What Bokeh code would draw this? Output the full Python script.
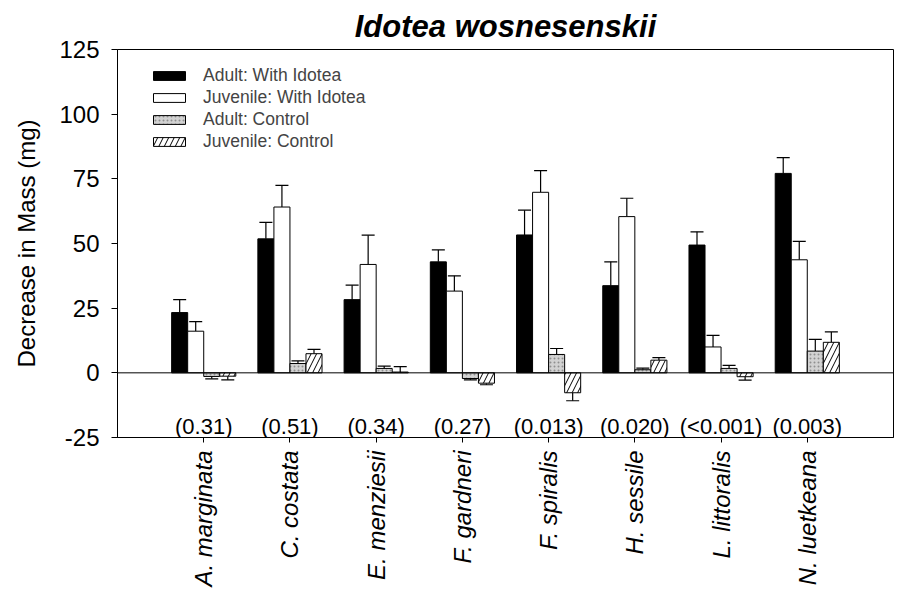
import math
from bokeh.plotting import figure
from bokeh.models import (ColumnDataSource, FactorRange, Range1d, Whisker, TeeHead,
                          Span, Legend, LegendItem, FixedTicker)
from bokeh.transform import dodge
from bokeh.core.properties import value
from bokeh.embed import file_html
from bokeh.resources import INLINE

chart_title = "Idotea wosnesenskii"
categories = ["A. marginata", "C. costata", "E. menziesii", "F. gardneri",
              "F. spiralis", "H. sessile", "L. littoralis", "N. luetkeana"]
p_values = ["(0.31)", "(0.51)", "(0.34)", "(0.27)", "(0.013)", "(0.020)", "(<0.001)", "(0.003)"]

adult_with = [23.3, 51.8, 28.3, 42.9, 53.3, 33.7, 49.4, 77.1]
adult_with_err = [5.0, 6.4, 5.6, 4.6, 9.6, 9.2, 5.1, 6.1]
juvenile_with = [16.1, 64.1, 41.9, 31.6, 69.8, 60.4, 10.0, 43.7]
juvenile_with_err = [3.7, 8.4, 11.3, 5.9, 8.4, 7.1, 4.5, 7.1]
adult_control = [-1.4, 3.6, 1.7, -2.2, 7.1, 1.2, 1.7, 8.4]
adult_control_err = [0.9, 1.0, 0.9, 0.5, 2.3, 0.6, 1.2, 4.5]
juvenile_control = [-1.3, 7.4, 0.3, -4.0, -7.7, 4.9, -1.5, 11.8]
juvenile_control_err = [1.4, 1.7, 2.1, 0.6, 3.1, 1.0, 1.3, 4.0]

series_names = ["Adult: With Idotea", "Juvenile: With Idotea", "Adult: Control", "Juvenile: Control"]
y_ticks = [-25, 0, 25, 50, 75, 100, 125]
y_tick_labels = ["-25", "0", "25", "50", "75", "100", "125"]

FONT = "Liberation Sans"

def err_end(vals, errs):
    return [v + (e if v >= 0 else -e) for v, e in zip(vals, errs)]

src = ColumnDataSource(dict(
    cat=categories, pval=p_values,
    aw=adult_with, aw_e=err_end(adult_with, adult_with_err),
    jw=juvenile_with, jw_e=err_end(juvenile_with, juvenile_with_err),
    ac=adult_control, ac_e=err_end(adult_control, adult_control_err),
    jc=juvenile_control, jc_e=err_end(juvenile_control, juvenile_control_err),
))

p = figure(width=898, height=600, output_backend="svg", toolbar_location=None,
           x_range=FactorRange(*categories, range_padding=0.5, range_padding_units="absolute"),
           y_range=Range1d(-25, 125),
           min_border_left=117, min_border_right=5, min_border_top=49, min_border_bottom=163)

p.title.text = chart_title
p.title.text_font = FONT
p.title.text_font_style = "bold italic"
p.title.text_font_size = "31px"
p.title.align = "center"
p.title.standoff = 12
p.title.text_color = "black"

p.background_fill_color = "white"
p.border_fill_color = "white"
p.outline_line_color = "black"
p.outline_line_width = 1
p.xgrid.visible = False
p.ygrid.visible = False

w = 0.186
offs = [-1.5 * w, -0.5 * w, 0.5 * w, 1.5 * w]
styles = [
    dict(fill_color="black"),
    dict(fill_color="white"),
    dict(fill_color="#d2d2d2", hatch_pattern="dot", hatch_color="#8f8f8f", hatch_scale=4, hatch_weight=1),
    dict(fill_color="white", hatch_pattern="/", hatch_color="black", hatch_scale=11, hatch_weight=1),
]
keys = ["aw", "jw", "ac", "jc"]
items = []
for key, off, st, name in zip(keys, offs, styles, series_names):
    xs = dodge("cat", off, range=p.x_range)
    r = p.vbar(x=xs, top=key, bottom=0, width=w, source=src,
               line_color="black", line_width=1, **st)
    items.append(LegendItem(label=name, renderers=[r]))
    wk = Whisker(base=xs, lower=key, upper=key + "_e", source=src, dimension="height",
                 line_color="black", line_width=1.2,
                 upper_head=TeeHead(size=13, line_color="black", line_width=1.2),
                 lower_head=None)
    p.add_layout(wk)

p.add_layout(Span(location=0, dimension="width", line_color="black", line_width=1))

p.text(x="cat", y=-20.6, text="pval", source=src, text_align="center", text_baseline="middle",
       text_font=value(FONT), text_font_size="22px", text_color="black")

legend = Legend(items=items, location=(32, 285), margin=0, padding=0, spacing=1,
                label_height=18, glyph_width=40, glyph_height=11, label_standoff=14,
                label_text_font=FONT, label_text_font_size="17.5px",
                border_line_alpha=0, background_fill_alpha=0)
p.add_layout(legend)

# axes
p.yaxis.ticker = FixedTicker(ticks=y_ticks)
p.yaxis.major_label_overrides = {t: s for t, s in zip(y_ticks, y_tick_labels)}
p.yaxis.axis_label = "Decrease in Mass (mg)"
p.yaxis.axis_label_text_font = FONT
p.yaxis.axis_label_text_font_style = "normal"
p.yaxis.axis_label_text_font_size = "24px"
p.yaxis.axis_label_standoff = 16
p.yaxis.major_label_text_font = FONT
p.yaxis.major_label_text_font_size = "24px"
p.yaxis.major_tick_out = 6
p.yaxis.major_tick_in = 0
p.yaxis.minor_tick_out = 0
p.yaxis.minor_tick_in = 0
p.yaxis.major_label_standoff = 12

p.xaxis.major_label_orientation = math.pi / 2
p.xaxis.major_label_text_font = FONT
p.xaxis.major_label_text_font_style = "italic"
p.xaxis.major_label_text_font_size = "24px"
p.xaxis.major_tick_out = 5
p.xaxis.major_tick_in = 0
p.xaxis.major_label_standoff = 8

for ax in (p.xaxis[0], p.yaxis[0]):
    ax.axis_line_color = "black"
    ax.major_tick_line_color = "black"
    ax.major_label_text_color = "black"
    ax.axis_label_text_color = "black"

open("out.html", "w").write(file_html(p, INLINE))
